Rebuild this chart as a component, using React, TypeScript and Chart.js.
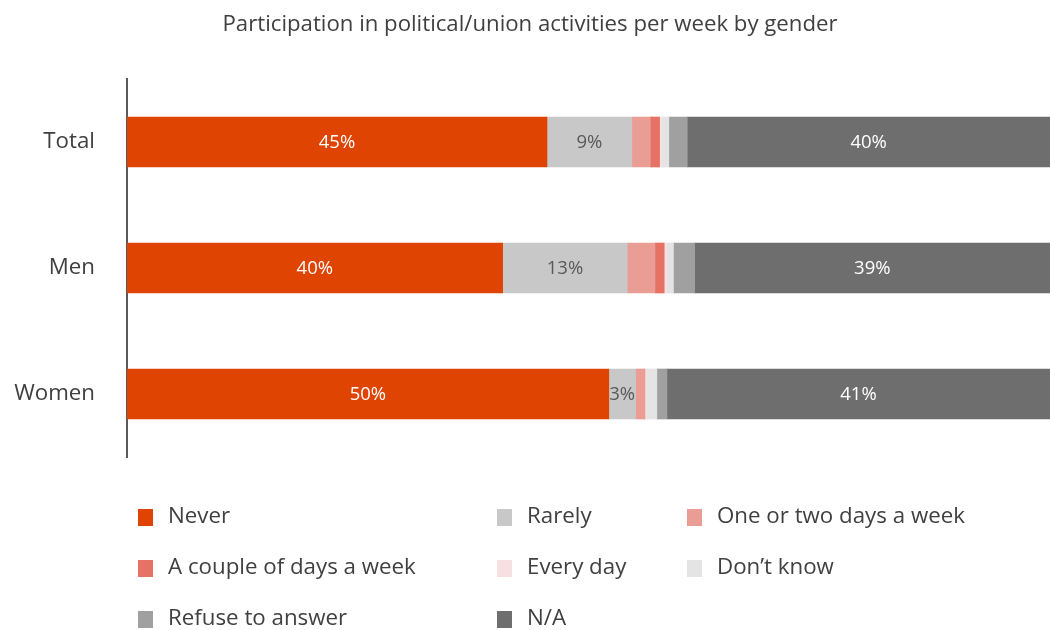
import React, { useEffect, useRef } from "react";
import { Chart, registerables } from "chart.js";

Chart.register(...registerables);

const categories = ["Total", "Men", "Women"];
const seriesNames = [
  "Never",
  "Rarely",
  "One or two days a week",
  "A couple of days a week",
  "Every day",
  "Don\u2019t know",
  "Refuse to answer",
  "N/A",
];
const seriesColors = [
  "#E04403",
  "#C8C8C8",
  "#E99D94",
  "#E57264",
  "#F6E0E0",
  "#E4E4E4",
  "#A0A0A0",
  "#6E6E6E",
];
const neverValues = [45.5, 40.7, 52.2];
const rarelyValues = [9.2, 13.5, 2.9];
const oneTwoValues = [2.0, 3.0, 1.0];
const coupleValues = [1.0, 1.0, 0];
const everyDayValues = [0.3, 0.3, 0.2];
const dontKnowValues = [0.7, 0.7, 1.1];
const refuseValues = [2.0, 2.3, 1.1];
const naValues = [39.3, 38.5, 41.5];

const neverLabels = ["45%", "40%", "50%"];
const rarelyLabels = ["9%", "13%", "3%"];
const naLabels = ["40%", "39%", "41%"];

const FONT = "'Open Sans', 'Noto Sans', sans-serif";

export default function App() {
  const ref = useRef<HTMLCanvasElement | null>(null);

  useEffect(() => {
    if (!ref.current) return;
    const allValues = [
      neverValues,
      rarelyValues,
      oneTwoValues,
      coupleValues,
      everyDayValues,
      dontKnowValues,
      refuseValues,
      naValues,
    ];
    const valueLabels: (string[] | null)[] = [
      neverLabels,
      rarelyLabels,
      null,
      null,
      null,
      null,
      null,
      naLabels,
    ];
    const labelColors = ["#FFFFFF", "#595959", "", "", "", "", "", "#FFFFFF"];

    const dataLabelPlugin = {
      id: "segLabels",
      afterDatasetsDraw(chart: any) {
        const ctx = chart.ctx;
        ctx.save();
        ctx.font = `18.5px ${FONT}`;
        ctx.textAlign = "center";
        ctx.textBaseline = "middle";
        chart.data.datasets.forEach((ds: any, di: number) => {
          const labs = valueLabels[di];
          if (!labs) return;
          const meta = chart.getDatasetMeta(di);
          meta.data.forEach((bar: any, i: number) => {
            const cx = (bar.x + bar.base) / 2;
            ctx.fillStyle = labelColors[di];
            ctx.fillText(labs[i], cx, bar.y + 1);
          });
        });
        ctx.restore();
      },
    };

    const legendPlugin = {
      id: "gridLegend",
      afterDraw(chart: any) {
        const ctx = chart.ctx;
        const colX = [138, 497, 687];
        const rowY = [517, 568, 619];
        ctx.save();
        ctx.font = `22.3px ${FONT}`;
        ctx.textBaseline = "middle";
        ctx.textAlign = "left";
        chart.data.datasets.forEach((ds: any, i: number) => {
          const c = i % 3;
          const r = Math.floor(i / 3);
          const x = colX[c];
          const y = rowY[r];
          ctx.fillStyle = ds.backgroundColor;
          ctx.fillRect(x, y - 8, 15, 17);
          ctx.fillStyle = "#404040";
          ctx.fillText(ds.label, x + 30, y);
        });
        ctx.restore();
      },
    };

    const titlePlugin = {
      id: "shiftTitle",
      afterDraw(chart: any) {
        const ctx = chart.ctx;
        ctx.save();
        ctx.font = `22.2px ${FONT}`;
        ctx.fillStyle = "#404040";
        ctx.textAlign = "center";
        ctx.textBaseline = "middle";
        ctx.fillText("Participation in political/union activities per week by gender", 530, 25);
        ctx.restore();
      },
    };

    const chart = new Chart(ref.current, {
      type: "bar",
      data: {
        labels: categories,
        datasets: seriesNames.map((name, i) => ({
          label: name,
          data: allValues[i],
          backgroundColor: seriesColors[i],
          borderWidth: 0,
          barThickness: 50,
        })),
      },
      options: {
        indexAxis: "y",
        animation: false,
        responsive: false,
        maintainAspectRatio: false,
        layout: { padding: { top: 79, bottom: 173, left: 0, right: 0 } },
        plugins: {
          legend: { display: false },
          tooltip: { enabled: false },
          title: { display: false },
        },
        scales: {
          x: {
            stacked: true,
            min: 0,
            max: 100,
            display: false,
          },
          y: {
            stacked: true,
            grid: { display: false },
            border: { display: true, color: "#595959", width: 2 },
            ticks: {
              color: "#404040",
              font: { family: FONT, size: 22.3 },
              padding: 24,
            },
            afterFit(scale: any) {
              scale.width = 127;
            },
          },
        },
      },
      plugins: [dataLabelPlugin, legendPlugin, titlePlugin],
    });
    return () => chart.destroy();
  }, []);

  return (
    <div style={{ position: "fixed", left: 0, top: 0, width: 1050, height: 630, background: "#fff" }}>
      <canvas ref={ref} width={1050} height={630} style={{ width: 1050, height: 630 }} />
    </div>
  );
}
